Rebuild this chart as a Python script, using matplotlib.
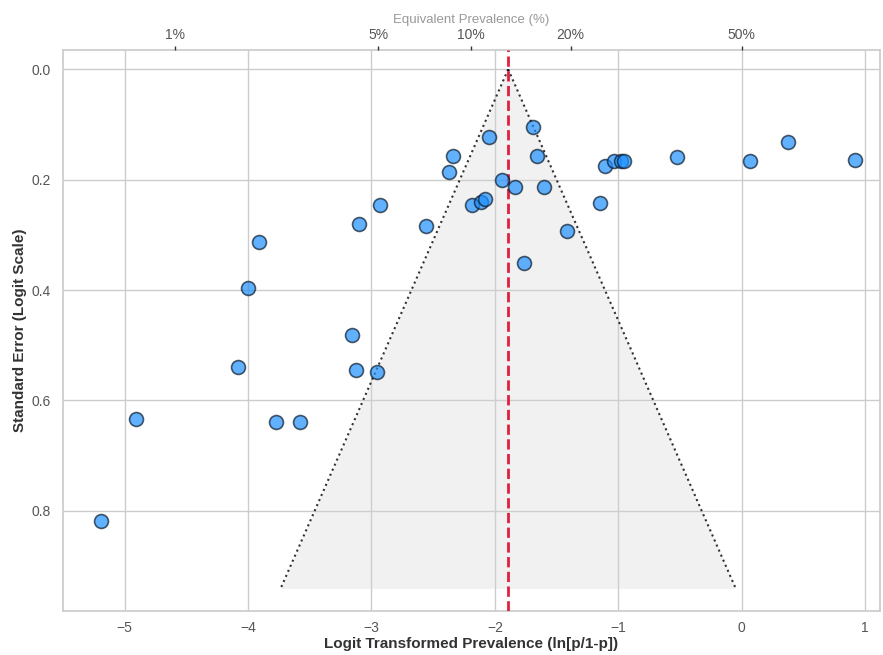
import numpy as np
import matplotlib
matplotlib.use("Agg")
import matplotlib.pyplot as plt
import seaborn as sns

sns.set_theme(style="whitegrid")
plt.rcParams['font.family'] = ['Liberation Sans', 'DejaVu Sans']

# Study data (logit prevalence, standard error)
logit_p = [-5.19, -4.905, -4.084, -4.00, -3.91, -3.773, -3.581, -3.154, -3.127,
           -3.103, -2.959, -2.927, -2.554, -2.373, -2.338, -2.189, -2.116, -2.081,
           -2.051, -1.946, -1.835, -1.765, -1.689, -1.657, -1.603, -1.413, -1.146,
           -1.105, -1.036, -0.981, -0.955, -0.527, 0.065, 0.378, 0.921]
se = [0.818, 0.634, 0.539, 0.396, 0.313, 0.639, 0.640, 0.481, 0.545,
      0.280, 0.548, 0.246, 0.284, 0.187, 0.158, 0.246, 0.240, 0.235,
      0.122, 0.2005, 0.214, 0.351, 0.104, 0.158, 0.214, 0.293, 0.243,
      0.176, 0.167, 0.167, 0.167, 0.159, 0.166, 0.132, 0.165]
pooled = -1.892
top_pct = [1, 5, 10, 20, 50]
top_labels = ["1%", "5%", "10%", "20%", "50%"]

x = np.array(logit_p)
y = np.array(se)

fig = plt.figure(figsize=(8.83, 6.55), dpi=100)
ax = fig.add_axes([0.0713, 0.0672, 0.9253, 0.8565])

se_max = y.max() * 1.15
se_line = np.array([0, se_max])
lo = pooled - 1.96 * se_line
hi = pooled + 1.96 * se_line
ax.fill_betweenx(se_line, lo, hi, color='lightgray', alpha=0.3, zorder=1, linewidth=0)
ax.plot(lo, se_line, color='black', linestyle=':', linewidth=1.5, alpha=0.8, zorder=2)
ax.plot(hi, se_line, color='black', linestyle=':', linewidth=1.5, alpha=0.8, zorder=2)
ax.axvline(pooled, color='#e0203c', linestyle='--', linewidth=2, zorder=3)

ax.scatter(x, y, s=100, color='dodgerblue', alpha=0.7, edgecolor='#0a1a2a',
           linewidth=1.2, zorder=4)

ax.set_xlim(x.min() - 0.31, x.max() + 0.2)
ax.set_ylim(y.max() * 1.2, -0.035)
ax.set_xticks([-5, -4, -3, -2, -1, 0, 1])
ax.set_xticklabels(['\u22125', '\u22124', '\u22123', '\u22122', '\u22121', '0', '1'])
ax.set_yticks([0.0, 0.2, 0.4, 0.6, 0.8])
ax.tick_params(axis='x', labelsize=10, colors='#555555', length=0, pad=7)
ax.tick_params(axis='y', labelsize=10, colors='#555555', length=0, pad=9)
ax.set_xlabel('Logit Transformed Prevalence (ln[p/1-p])', fontsize=11,
              fontweight='bold', color='#333333', labelpad=2)
ax.set_ylabel('Standard Error (Logit Scale)', fontsize=11,
              fontweight='bold', color='#333333', labelpad=3)
for s in ax.spines.values():
    s.set_color('#cccccc')

ax2 = ax.twiny()
ax2.set_xlim(ax.get_xlim())
pv = np.array(top_pct) / 100.0
ax2.set_xticks(np.log(pv / (1 - pv)))
ax2.set_xticklabels(top_labels)
ax2.grid(False)
ax2.tick_params(axis='x', labelsize=10, colors='#555555', length=3, width=1,
                direction='out', pad=3)
ax2.tick_params(axis='x', color='#333333')
ax2.set_xlabel('Equivalent Prevalence (%)', fontsize=9.5, color='#999999', labelpad=3)
for s in ax2.spines.values():
    s.set_visible(False)

fig.savefig('out.png', dpi=100)
